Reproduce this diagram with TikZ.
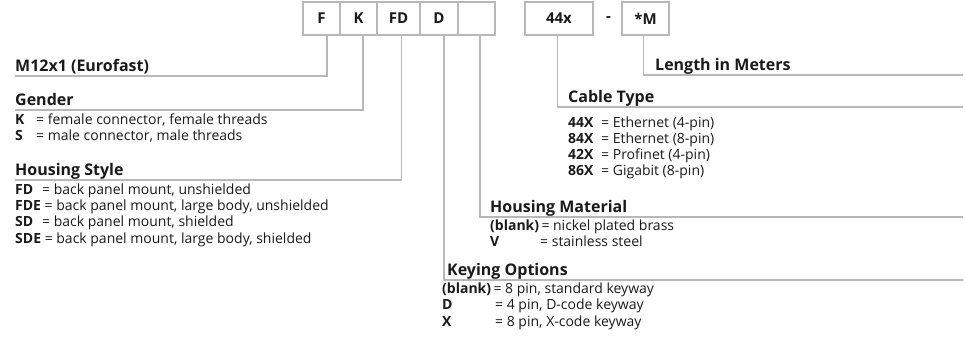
\documentclass[tikz,border=0pt]{standalone}
\usepackage{fontspec}
\setmainfont{Open Sans}
\definecolor{linegray}{HTML}{B8B8B8}
\definecolor{txt}{HTML}{1A1A1A}
\begin{document}
\begin{tikzpicture}[x=1pt,y=-1pt,
  cell/.style={draw=linegray, line width=1.2pt, minimum height=33pt, inner sep=0pt, text=txt, font=\bfseries\fontsize{15}{15}\selectfont},
  conn/.style={draw=linegray, line width=1.2pt},
  head/.style={anchor=base west, inner sep=0pt, text=txt, font=\bfseries\fontsize{16}{16}\selectfont},
  row/.style={anchor=base west, inner sep=0pt, text=txt, font=\fontsize{14}{14}\selectfont},
  plain/.style={inner sep=0pt, text=txt, font=\bfseries\fontsize{15}{15}\selectfont}]
\useasboundingbox (0,0) rectangle (965,341);
% code boxes
\node[cell, minimum width=37pt] (bF)  at (321.5,18.5) {F};
\node[cell, minimum width=37pt] (bK)  at (358.5,18.5) {K};
\node[cell, minimum width=43pt] (bFD) at (398.5,18.5) {FD};
\node[cell, minimum width=38pt] (bD)  at (439,18.5) {D};
\node[cell, minimum width=37pt] (bB)  at (476.5,18.5) {};
\node[cell, minimum width=68pt] (bC)  at (559,18.5) {44x};
\node[plain] (dash) at (608.5,19) {-};
\node[cell, minimum width=47pt] (bM)  at (645.5,18.5) {*M};
% line ends
\coordinate (eM12) at (15,76);
\coordinate (eGen) at (15,110);
\coordinate (eHS)  at (15,180);
\coordinate (eKey) at (963,280);
\coordinate (eHM)  at (963,217);
\coordinate (eCT)  at (963,107);
\coordinate (eLen) at (963,75);
% connectors
\draw[conn] ([xshift=5.5pt]bF.south) |- (eM12);
\draw[conn] ([xshift=4.5pt]bK.south) |- (eGen);
\draw[conn] ([xshift=3pt]bFD.south) |- (eHS);
\draw[conn] ([xshift=5pt]bD.south) |- (eKey);
\draw[conn] ([xshift=3.5pt]bB.south) |- (eHM);
\draw[conn] ([xshift=-1.5pt]bC.south) |- (eCT);
\draw[conn] ([xshift=-2pt]bM.south) |- (eLen);
% left column
\node[head] (hM12) at (15,71) {M12x1 (Eurofast)};
\node[head] (hGen) at (15,105) {Gender};
\node[row] (g1) at (15,124) {\makebox[21pt][l]{\textbf{K}}= female connector, female threads};
\node[row] (g2) at (15,140.5) {\makebox[21pt][l]{\textbf{S}}= male connector, male threads};
\node[head] (hHS) at (15,175) {Housing Style};
\node[row] (s1) at (15,194) {\makebox[27pt][l]{\textbf{FD}}= back panel mount, unshielded};
\node[row] (s2) at (15,210.3) {\textbf{FDE} = back panel mount, large body, unshielded};
\node[row] (s3) at (15,226.6) {\makebox[27pt][l]{\textbf{SD}}= back panel mount, shielded};
\node[row] (s4) at (15,243) {\textbf{SDE} = back panel mount, large body, shielded};
% right column
\node[head] (hLen) at (655,70) {Length in Meters};
\node[head] (hCT) at (568,102) {Cable Type};
\node[row] (c1) at (568,127) {\makebox[33pt][l]{\textbf{44X}}= Ethernet (4-pin)};
\node[row] (c2) at (568,143) {\makebox[33pt][l]{\textbf{84X}}= Ethernet (8-pin)};
\node[row] (c3) at (568,159) {\makebox[33pt][l]{\textbf{42X}}= Profinet (4-pin)};
\node[row] (c4) at (568,175) {\makebox[33pt][l]{\textbf{86X}}= Gigabit (8-pin)};
\node[head] (hHM) at (490,212) {Housing Material};
\node[row] (m1) at (490,230) {\textbf{(blank)}\,= nickel plated brass};
\node[row] (m2) at (490,246) {\makebox[50pt][l]{\textbf{V}}= stainless steel};
\node[head] (hKey) at (447,275) {Keying Options};
\node[row] (k1) at (442,293) {\textbf{(blank)}\,= 8 pin, standard keyway};
\node[row] (k2) at (442,309.5) {\makebox[53pt][l]{\textbf{D}}= 4 pin, D-code keyway};
\node[row] (k3) at (442,326) {\makebox[53pt][l]{\textbf{X}}= 8 pin, X-code keyway};
\end{tikzpicture}
\end{document}
